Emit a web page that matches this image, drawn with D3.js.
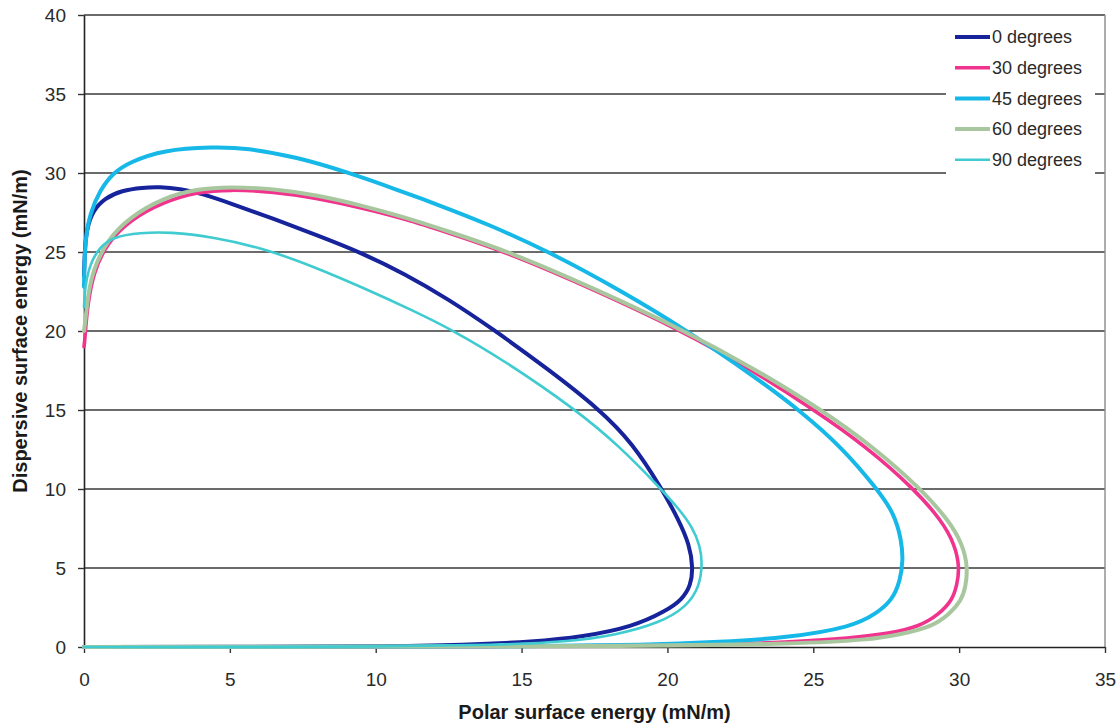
<!DOCTYPE html>
<html>
<head>
<meta charset="utf-8">
<script src="https://cdn.jsdelivr.net/npm/d3@7"></script>
<style>
  html, body { margin: 0; padding: 0; background: #fff; }
  svg { display: block; font-family: "Liberation Sans", Arial, sans-serif; }
</style>
</head>
<body>
<svg id="chart" width="1120" height="724"></svg>
<script>
// Wetting envelopes: polar vs dispersive surface energy for several contact angles
const seriesNames = ["0 degrees", "30 degrees", "45 degrees", "60 degrees", "90 degrees"];
const seriesColors = ["#16239a", "#f0338c", "#16b8e8", "#a9c79f", "#3fcbd0"];
const seriesWidths = [4, 3.6, 4, 4, 2.6];

const xTicks = [0, 5, 10, 15, 20, 25, 30, 35];
const yTicks = [0, 5, 10, 15, 20, 25, 30, 35, 40];

// each envelope: [polar, dispersive] along the closed contour
const deg0 = [
  [0, 23.5], [0.03, 25.3], [0.1, 26.5], [0.3, 27.6], [0.7, 28.4], [1.3, 28.9],
  [2.0, 29.08], [2.6, 29.12], [3.3, 29.0], [4.0, 28.72], [5.0, 28.1], [6.5, 27.1],
  [8.0, 26.05], [9.45, 25.0], [11.0, 23.62], [12.5, 22.0], [13.96, 20.2], [15.9, 17.6],
  [17.7, 15.0], [18.8, 12.9], [19.78, 10.1], [20.4, 8.0], [20.75, 6.5], [20.88, 5.0],
  [20.8, 3.9], [20.5, 3.0], [19.97, 2.3], [18.8, 1.27], [17.1, 0.65], [15.4, 0.33],
  [13.1, 0.13], [10, 0.03], [5, 0.005], [0, 0]
];
const deg30 = [
  [0, 19.0], [0.03, 19.43], [0.1, 21.33], [0.31, 23.67], [0.79, 25.57], [1.58, 27.03],
  [2.71, 28.16], [3.87, 28.8], [5.0, 28.95], [6.5, 28.82], [8.0, 28.4], [9.5, 27.8],
  [11.0, 27.1], [12.5, 26.2], [14.47, 25.0], [17.5, 22.6], [20.5, 20.0], [22.8, 17.65],
  [25.03, 15.0], [26.8, 12.7], [28.46, 10.0], [29.4, 8.0], [29.85, 6.5], [30.02, 5.0],
  [29.92, 3.9], [29.77, 2.97], [29.3, 2.05], [28.63, 1.29], [27.6, 0.85], [26.34, 0.57],
  [24.0, 0.3], [21.78, 0.13], [15, 0.02], [0, 0]
];
const deg45 = [
  [0, 22.8], [0.03, 25.76], [0.21, 27.47], [0.55, 28.92], [0.99, 30.0], [1.58, 30.7],
  [2.71, 31.46], [4.42, 31.65], [5.58, 31.58], [7.29, 31.01], [9.01, 30.06], [10.72, 28.95],
  [12.19, 27.95], [13.8, 26.8], [15.96, 25.0], [18.36, 22.6], [20.65, 20.06], [23.05, 17.03],
  [24.52, 15.0], [26.0, 12.6], [27.16, 10.06], [27.77, 8.48], [28.02, 6.8], [28.08, 5.5],
  [27.98, 4.2], [27.71, 2.97], [27.15, 2.1], [26.34, 1.27], [24.08, 0.57], [21.78, 0.32],
  [19.38, 0.13], [15, 0.03], [10, 0.01], [0, 0]
];
const deg60 = [
  [0, 20.0], [0.03, 20.4], [0.14, 22.3], [0.31, 23.86], [0.79, 25.76], [1.58, 27.22],
  [2.71, 28.42], [3.87, 28.99], [5.0, 29.13], [6.5, 29.0], [8.0, 28.6], [9.5, 27.95],
  [11.0, 27.2], [12.5, 26.3], [14.6, 25.0], [17.6, 22.6], [20.6, 20.0], [22.9, 17.7],
  [25.3, 15.0], [27.1, 12.6], [28.69, 10.0], [29.65, 8.0], [30.12, 6.5], [30.3, 5.0],
  [30.22, 3.8], [30.08, 2.95], [29.65, 2.05], [29.08, 1.3], [28.0, 0.8], [26.92, 0.45],
  [24.3, 0.2], [20, 0.05], [0, 0]
];
const deg90 = [
  [0, 21.5], [0.03, 22.78], [0.21, 24.3], [0.55, 25.32], [0.99, 25.95], [1.92, 26.22],
  [2.95, 26.27], [4.42, 25.95], [6.13, 25.25], [7.84, 24.1], [9.55, 22.75], [11.27, 21.3],
  [12.64, 20.05], [14.35, 18.2], [16.88, 15.0], [18.36, 12.7], [19.73, 10.1], [20.41, 8.7],
  [20.85, 7.6], [21.12, 6.4], [21.2, 5.3], [21.1, 3.8], [20.65, 2.53], [19.73, 1.52],
  [18.25, 0.76], [16.54, 0.32], [14.25, 0.13], [10, 0.02], [5, 0.003], [0, 0]
];
const seriesData = [deg0, deg30, deg45, deg60, deg90];

const svg = d3.select("#chart");
const margin = { left: 84, right: 15, top: 15, bottom: 77 };
const W = 1120, H = 724;
const x = d3.scaleLinear().domain([0, 35]).range([margin.left, W - margin.right]);
const y = d3.scaleLinear().domain([0, 40]).range([H - margin.bottom, margin.top]);

// horizontal gridlines
svg.append("g").selectAll("line")
  .data(yTicks.filter(v => v > 0))
  .join("line")
  .attr("x1", x(0)).attr("x2", x(35))
  .attr("y1", d => y(d)).attr("y2", d => y(d))
  .attr("stroke", "#3a3a3a").attr("stroke-width", 1.6);

// right border of the plot area
svg.append("line")
  .attr("x1", x(35)).attr("x2", x(35)).attr("y1", y(40)).attr("y2", y(0))
  .attr("stroke", "#8a8a8a").attr("stroke-width", 1.4);

// axes
const xAxis = svg.append("g")
  .attr("transform", `translate(0,${y(0)})`)
  .call(d3.axisBottom(x).tickValues(xTicks).tickSize(6).tickSizeOuter(0).tickPadding(20));
const yAxis = svg.append("g")
  .attr("transform", `translate(${x(0)},0)`)
  .call(d3.axisLeft(y).tickValues(yTicks).tickSize(6).tickSizeOuter(0).tickPadding(12));
[xAxis, yAxis].forEach(g => {
  g.select(".domain").attr("stroke", "#222").attr("stroke-width", 1.6);
  g.selectAll(".tick line").attr("stroke", "#333").attr("stroke-width", 1.4);
  g.selectAll(".tick text")
    .attr("fill", "#2a2a2a")
    .style("font-size", "19px")
    .style("font-family", "'Liberation Sans', Arial, sans-serif");
});

// envelope curves, smoothed through the sampled contour points
const line = d3.line()
  .x(d => x(d[0])).y(d => y(d[1]))
  .curve(d3.curveBasis);
svg.append("g").selectAll("path")
  .data(seriesData)
  .join("path")
  .attr("d", line)
  .attr("fill", "none")
  .attr("stroke", (d, i) => seriesColors[i])
  .attr("stroke-width", (d, i) => seriesWidths[i])
  .attr("stroke-linejoin", "round")
  .attr("stroke-linecap", "round");

// legend
const legend = svg.append("g");
legend.append("rect")
  .attr("x", 946).attr("y", 21).attr("width", 149).attr("height", 158)
  .attr("fill", "#fff");
const items = legend.selectAll("g.item")
  .data(seriesNames)
  .join("g")
  .attr("class", "item")
  .attr("transform", (d, i) => `translate(0,${37 + i * 30.7})`);
items.append("line")
  .attr("x1", 955).attr("x2", 990)
  .attr("stroke", (d, i) => seriesColors[i])
  .attr("stroke-width", (d, i) => seriesWidths[i]);
items.append("text")
  .attr("x", 992).attr("dy", "0.35em")
  .attr("fill", "#2a2a2a")
  .style("font-size", "18px")
  .text(d => d);

// axis titles
svg.append("text")
  .attr("x", (x(0) + x(35)) / 2).attr("y", 719)
  .attr("text-anchor", "middle")
  .attr("fill", "#1a1a1a")
  .style("font-size", "20px").style("font-weight", "bold")
  .text("Polar surface energy (mN/m)");
svg.append("text")
  .attr("transform", `translate(27,${(y(0) + y(40)) / 2}) rotate(-90)`)
  .attr("text-anchor", "middle")
  .attr("fill", "#1a1a1a")
  .style("font-size", "20px").style("font-weight", "bold")
  .text("Dispersive surface energy (mN/m)");
</script>
</body>
</html>
